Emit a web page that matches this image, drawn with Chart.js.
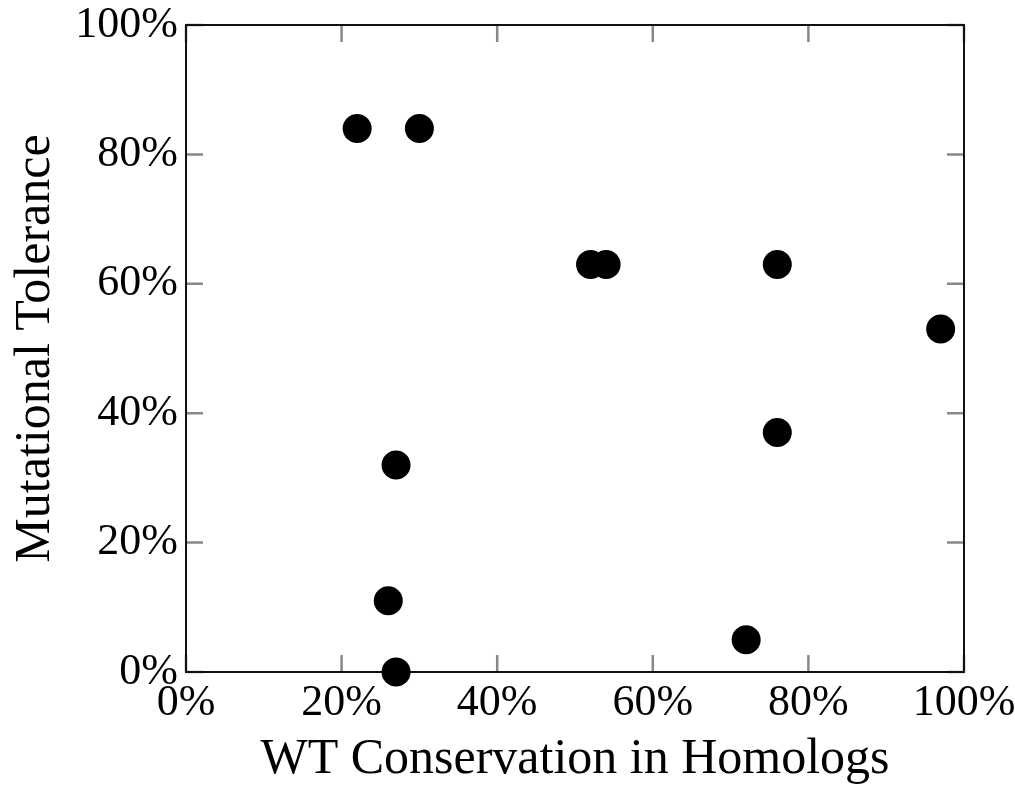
<!DOCTYPE html>
<html lang="en">
<head>
    <meta charset="UTF-8">
    <title>Mutational Tolerance vs WT Conservation</title>
    <script src="https://cdn.jsdelivr.net/npm/chart.js@4.4.0/dist/chart.umd.min.js"></script>
    <style>
        body{
            margin: 0;
            background-color: white;
        }
        #wrap{
            width: 1015px;
            height: 790px;
        }
    </style>
</head>
<body>
    <div id="wrap">
        <canvas id="myChart" width="1015" height="790"></canvas>
    </div>
    <script>
        // values, in percent
        var conservation = [22, 30, 52, 54, 76, 97, 76, 27, 26, 27, 72];
        var tolerance    = [84, 84, 63, 63, 63, 53, 37, 32, 11, 0, 5];
        var tickValues   = [0, 20, 40, 60, 80, 100];
        var xTitle = "WT Conservation in Homologs";
        var yTitle = "Mutational Tolerance";

        var points = conservation.map(function(c, i){
            return {x: c, y: tolerance[i]};
        });

        var serif = "'Liberation Serif', 'DejaVu Serif', serif";

        // frame round the plot plus grey inward ticks on all four sides
        var frameTicks = {
            id: "frameTicks",
            beforeDatasetsDraw: function(chart){
                var ctx = chart.ctx;
                var a = chart.chartArea;
                var xs = chart.scales.x, ys = chart.scales.y;
                var len = 17;
                ctx.save();
                ctx.strokeStyle = "#888888";
                ctx.lineWidth = 2.5;
                ctx.beginPath();
                tickValues.forEach(function(v){
                    var px = xs.getPixelForValue(v);
                    var py = ys.getPixelForValue(v);
                    ctx.moveTo(px, a.bottom); ctx.lineTo(px, a.bottom - len);
                    ctx.moveTo(px, a.top);    ctx.lineTo(px, a.top + len);
                    ctx.moveTo(a.left, py);   ctx.lineTo(a.left + len, py);
                    ctx.moveTo(a.right, py);  ctx.lineTo(a.right - len, py);
                });
                ctx.stroke();
                ctx.strokeStyle = "#111111";
                ctx.lineWidth = 2;
                ctx.strokeRect(a.left, a.top, a.right - a.left, a.bottom - a.top);
                ctx.restore();
            }
        };

        new Chart("myChart", {
            type: "scatter",
            data: {
                datasets: [{
                    data: points,
                    backgroundColor: "black",
                    borderWidth: 0,
                    pointRadius: 14.5,
                    pointHoverRadius: 14.5,
                    clip: false
                }]
            },
            options: {
                responsive: false,
                animation: false,
                layout: {padding: {top: 25, right: 51, left: 0, bottom: 0}},
                plugins: {
                    legend: {display: false},
                    tooltip: {enabled: false}
                },
                scales: {
                    x: {
                        min: 0, max: 100,
                        grid: {display: false, drawTicks: false},
                        border: {display: false},
                        ticks: {
                            stepSize: 20,
                            padding: 5,
                            color: "black",
                            maxRotation: 0,
                            font: {family: serif, size: 44},
                            callback: function(v){ return v + "%"; }
                        },
                        title: {
                            display: true,
                            text: xTitle,
                            color: "black",
                            font: {family: serif, size: 50},
                            padding: {top: 0, bottom: 0}
                        },
                        afterFit: function(s){
                            s.height = 118;
                            s.paddingLeft = 0;
                            s.paddingRight = 0;
                        }
                    },
                    y: {
                        min: 0, max: 100,
                        grid: {display: false, drawTicks: false},
                        border: {display: false},
                        ticks: {
                            stepSize: 20,
                            padding: 8,
                            color: "black",
                            font: {family: serif, size: 44},
                            callback: function(v){ return v + "%"; }
                        },
                        title: {
                            display: true,
                            text: yTitle,
                            color: "black",
                            font: {family: serif, size: 50},
                            padding: {top: 6, bottom: 0}
                        },
                        afterFit: function(s){
                            s.width = 186;
                            s.paddingTop = 0;
                            s.paddingBottom = 0;
                        }
                    }
                }
            },
            plugins: [frameTicks]
        });
    </script>
</body>
</html>
